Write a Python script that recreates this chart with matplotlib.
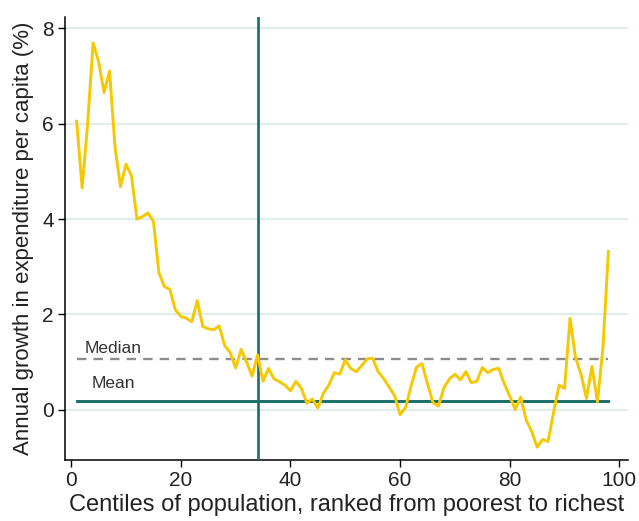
import matplotlib
matplotlib.use("Agg")
import matplotlib.pyplot as plt

centiles = list(range(1, 99))
growth = [6.05, 4.65, 6.0, 7.69, 7.3, 6.65, 7.1, 5.5, 4.68, 5.15,
          4.9, 4.0, 4.05, 4.13, 3.95, 2.88, 2.58, 2.53, 2.1, 1.96,
          1.92, 1.85, 2.29, 1.75, 1.7, 1.68, 1.76, 1.35, 1.2, 0.88,
          1.27, 1.0, 0.71, 1.15, 0.6, 0.87, 0.65, 0.59, 0.52, 0.4,
          0.6, 0.45, 0.14, 0.23, 0.04, 0.35, 0.52, 0.78, 0.75, 1.05,
          0.87, 0.8, 0.93, 1.07, 1.08, 0.8, 0.66, 0.48, 0.3, -0.1,
          0.05, 0.5, 0.9, 0.97, 0.55, 0.15, 0.08, 0.47, 0.65, 0.75,
          0.63, 0.8, 0.57, 0.6, 0.89, 0.78, 0.85, 0.87, 0.55, 0.29,
          0.01, 0.27, -0.21, -0.45, -0.78, -0.62, -0.66, -0.05, 0.52, 0.45,
          1.92, 1.1, 0.75, 0.24, 0.91, 0.17, 1.3, 3.32]
median_growth = 1.07
mean_growth = 0.19
median_centile = 34
xticks = [0, 20, 40, 60, 80, 100]
yticks = [0, 2, 4, 6, 8]

plt.rcParams["font.family"] = ["Liberation Sans", "DejaVu Sans"]

fig = plt.figure(figsize=(6.39, 5.21), dpi=100)
ax = fig.add_axes([0.1017, 0.117, 0.8813, 0.85])

for yv in yticks:
    ax.axhline(yv, color="#e0eded", lw=1.6, zorder=0)

teal = "#1a6e6a"
ax.plot([1, 98], [median_growth, median_growth], color="#8c8c8c", lw=1.7,
        ls=(0, (4, 3)), zorder=2)
ax.plot([1, 98], [mean_growth, mean_growth], color=teal, lw=2.1, zorder=2)
ax.axvline(median_centile, color=teal, lw=1.9, zorder=3)
ax.plot(centiles, growth, color="#f7c800", lw=2.1, zorder=4)

ax.text(2.5, 1.28, "Median", fontsize=12.5, color="#333333", ha="left", va="center")
ax.text(3.8, 0.55, "Mean", fontsize=12.5, color="#333333", ha="left", va="center")

ax.set_xlim(-1.13, 101.6)
ax.set_ylim(-1.05, 8.23)
ax.set_xticks(xticks)
ax.set_yticks(yticks)
ax.tick_params(axis="both", direction="out", length=5, width=1, labelsize=15,
               colors="black", labelcolor="#222222", pad=3)
for s in ["top", "right"]:
    ax.spines[s].set_visible(False)
for s in ["left", "bottom"]:
    ax.spines[s].set_linewidth(1.1)
ax.set_xlabel("Centiles of population, ranked from poorest to richest",
              fontsize=17, color="#222222", labelpad=3)
ax.set_ylabel("Annual growth in expenditure per capita (%)",
              fontsize=16, color="#222222", labelpad=6)

fig.savefig("out.png", dpi=100)
